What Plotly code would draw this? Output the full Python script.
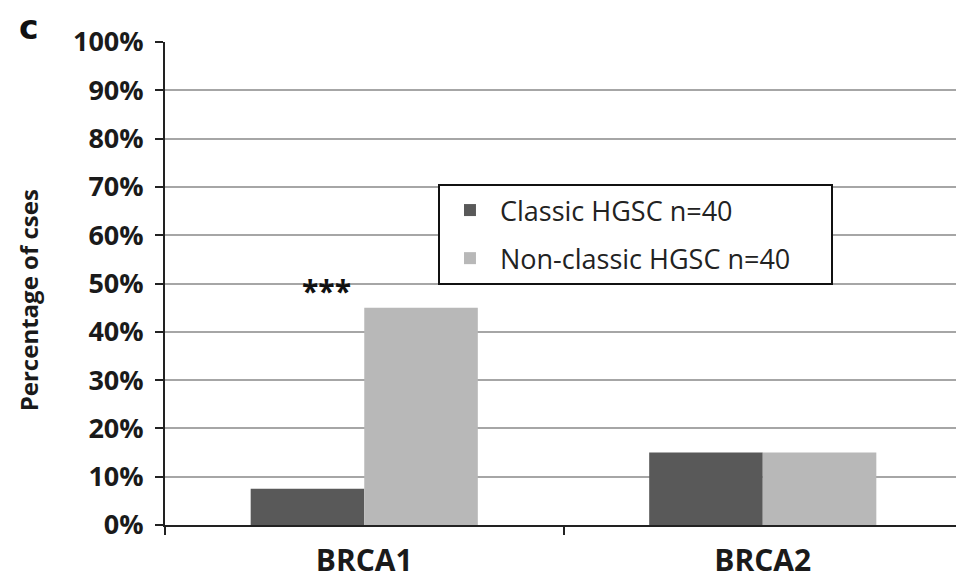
import plotly.graph_objects as go

categories = ["BRCA1", "BRCA2"]
classic_values = [7.5, 15]
nonclassic_values = [45, 15]
series_names = ["Classic HGSC n=40", "Non-classic HGSC n=40"]
y_tick_values = [0, 10, 20, 30, 40, 50, 60, 70, 80, 90, 100]
y_tick_labels = [f"{v}%" for v in y_tick_values]
y_title = "Percentage of cses"
significance = "***"
panel_label = "c"

FONT = "Open Sans, DejaVu Sans, sans-serif"
PAD = "\u00a0" * 5  # right padding inside the legend box

fig = go.Figure()
fig.add_trace(go.Bar(x=categories, y=classic_values, name=series_names[0] + PAD,
                     marker=dict(color="#595959", line=dict(width=0)),
                     legendgroup="a"))
fig.add_trace(go.Bar(x=categories, y=nonclassic_values, name=series_names[1] + PAD,
                     marker=dict(color="#b8b8b8", line=dict(width=0)),
                     legendgroup="b"))

# page body has an 8px margin, so the figure is sized 956x571
fig.update_layout(
    width=956, height=571,
    margin=dict(l=157, r=2, t=34, b=54),
    paper_bgcolor="white", plot_bgcolor="white",
    barmode="group", bargap=0.43, bargroupgap=0,
    font=dict(family=FONT, color="#1a1a1a"),
    showlegend=True,
    legend=dict(
        x=0.3425, y=0.706, xanchor="left", yanchor="top",
        bordercolor="#111", borderwidth=2, bgcolor="white",
        font=dict(size=27, family=FONT, color="#222"),
        traceorder="grouped", tracegroupgap=10, itemwidth=50,
    ),
    xaxis=dict(
        automargin=False,
        showline=True, linecolor="#222", linewidth=2,
        ticks="outside", tickson="boundaries", ticklen=8, tickcolor="#222", tickwidth=2,
        ticklabelstandoff=8,
        tickfont=dict(size=30, family=FONT, color="#1a1a1a", weight="bold"),
        showgrid=False,
    ),
    yaxis=dict(
        automargin=False,
        range=[0, 100], tickvals=y_tick_values, ticktext=y_tick_labels,
        showline=True, linecolor="#222", linewidth=2,
        ticks="outside", ticklen=8, tickcolor="#222", tickwidth=2,
        ticklabelstandoff=6,
        tickfont=dict(size=27, family=FONT, color="#1a1a1a", weight="bold"),
        showgrid=True, gridcolor="#a6a6a6", gridwidth=2,
        zeroline=False,
    ),
)

fig.add_annotation(x="BRCA1", y=48.5, xref="x", yref="y", text=significance,
                   showarrow=False, xshift=-38,
                   font=dict(size=30, family=FONT, color="#111", weight="bold"))
fig.add_annotation(xref="paper", yref="paper", x=-0.186, y=1.031, yanchor="middle",
                   text=panel_label, showarrow=False,
                   font=dict(size=33, family="DejaVu Sans, sans-serif", color="#111", weight="bold"))
fig.add_annotation(xref="paper", yref="paper", x=-0.194, y=0.465, text=y_title,
                   textangle=-90, showarrow=False,
                   font=dict(size=24, family=FONT, color="#1a1a1a", weight="bold"))

fig.write_html("out.html")
